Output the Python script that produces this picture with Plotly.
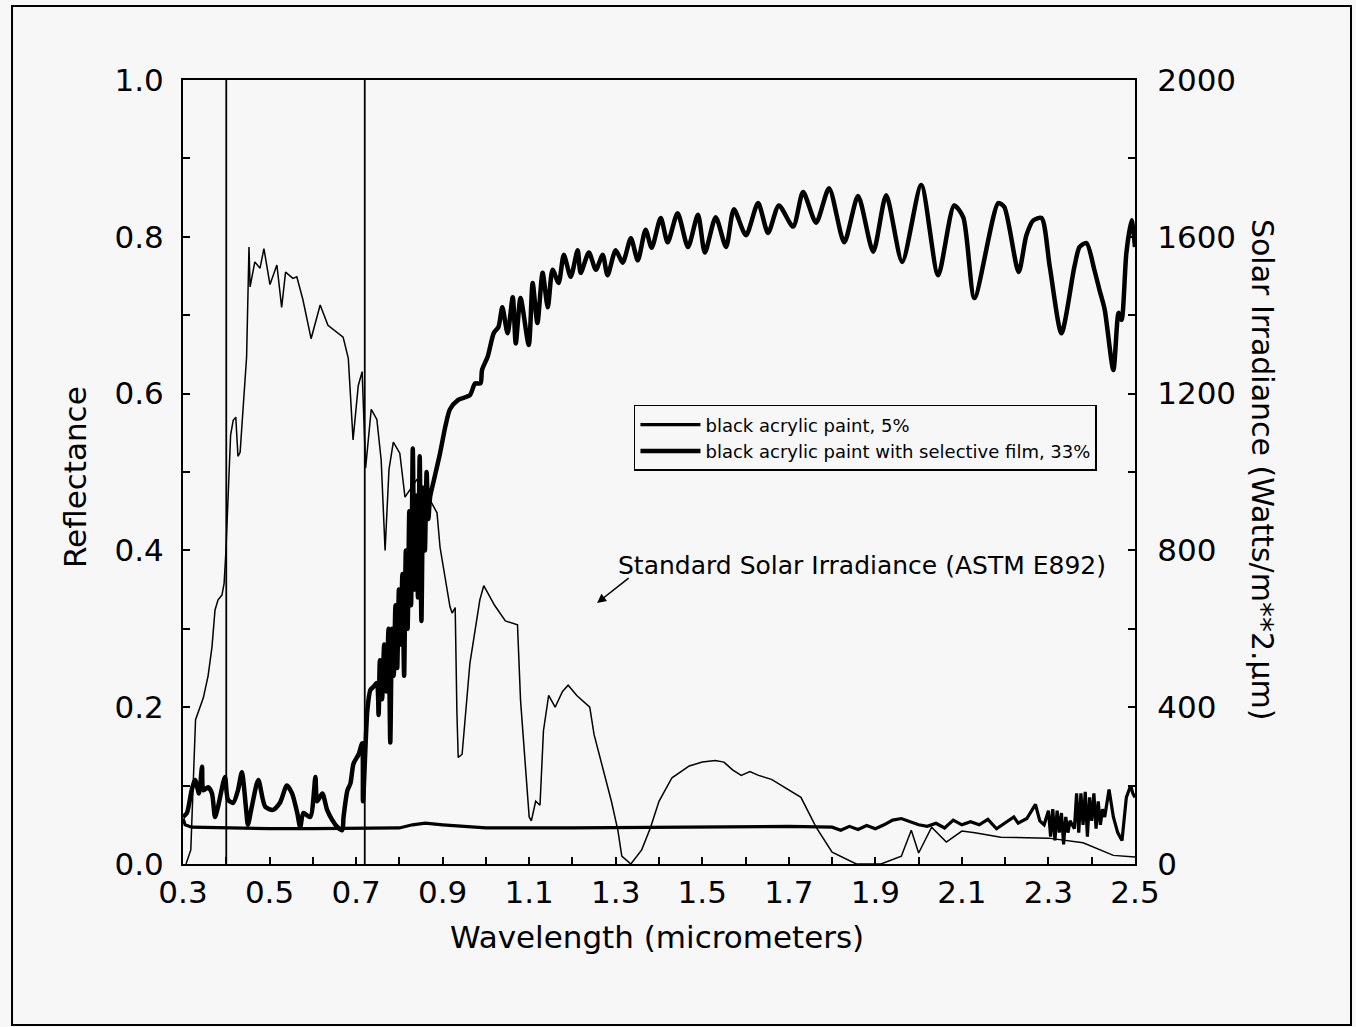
import plotly.graph_objects as go

# ---------------- data ----------------
# Standard solar irradiance (W/m^2/um) vs wavelength (um)
solar_wl = [0.307, 0.318, 0.329, 0.34, 0.347, 0.358, 0.367, 0.374, 0.381, 0.39, 0.395, 0.399,
            0.406, 0.41, 0.416, 0.422, 0.427, 0.432, 0.447, 0.45, 0.4525, 0.455, 0.466, 0.478,
            0.487, 0.501, 0.517, 0.528, 0.537, 0.554, 0.563, 0.577, 0.596, 0.617, 0.635, 0.67,
            0.682, 0.693, 0.705, 0.714, 0.722, 0.735, 0.748, 0.758, 0.767, 0.776, 0.786, 0.801,
            0.813, 0.84, 0.855, 0.871, 0.887, 0.894, 0.917, 0.922, 0.929, 0.933, 0.936, 0.945,
            0.963, 0.986, 0.995, 1.02, 1.045, 1.073, 1.08, 1.10, 1.105, 1.115, 1.125, 1.133,
            1.145, 1.16, 1.177, 1.19, 1.21, 1.24, 1.25, 1.29, 1.305, 1.314, 1.335, 1.36, 1.38,
            1.40, 1.43, 1.47, 1.50, 1.53, 1.55, 1.57, 1.59, 1.61, 1.63, 1.66, 1.69, 1.728,
            1.763, 1.80, 1.856, 1.913, 1.96, 1.983, 2.0, 2.03, 2.064, 2.1, 2.13, 2.19, 2.3,
            2.38, 2.45, 2.5]
solar_irr = [0, 36, 368, 400, 424, 480, 554, 648, 674, 686, 716, 794,
             980, 1094, 1132, 1140, 1040, 1050, 1294, 1464, 1574, 1472, 1536, 1520,
             1570, 1478, 1528, 1420, 1510, 1494, 1498, 1440, 1340, 1426, 1374, 1344,
             1290, 1082, 1220, 1256, 1010, 1160, 1134, 1030, 800, 1006, 1076, 1048,
             936, 980, 960, 928, 896, 808, 656, 640, 654, 386, 272, 280,
             512, 674, 710, 660, 620, 610, 418, 120, 110, 160, 150, 340,
             430, 400, 440, 456, 430, 400, 330, 160, 86, 20, 0, 36, 92,
             160, 220, 250, 260, 264, 260, 240, 226, 236, 226, 216, 196, 170,
             94, 30, 0, 0, 20, 86, 28, 94, 56, 84, 80, 68, 66,
             54, 22, 18]

# black acrylic paint, 5%
paint_wl = [0.3, 0.305, 0.32, 0.4, 0.5, 0.6, 0.7, 0.8, 0.83, 0.86, 0.9, 1.0, 1.2, 1.4, 1.6,
            1.7, 1.8, 1.82, 1.84, 1.86, 1.88, 1.9, 1.92, 1.94, 1.96, 1.98, 2.0, 2.02, 2.04,
            2.06, 2.08, 2.1, 2.12, 2.14, 2.16, 2.18, 2.2, 2.22, 2.23, 2.25, 2.27, 2.28, 2.29,
            2.3, 2.305, 2.31, 2.315, 2.32, 2.325, 2.33, 2.335, 2.34, 2.345, 2.35, 2.36, 2.365,
            2.37, 2.375, 2.38, 2.385, 2.39, 2.395, 2.40, 2.405, 2.41, 2.415, 2.42, 2.425, 2.43,
            2.44, 2.45, 2.46, 2.47, 2.475, 2.48, 2.49, 2.495, 2.5]
paint_refl = [0.058, 0.05, 0.047, 0.046, 0.045, 0.045, 0.045, 0.046, 0.05, 0.052, 0.05, 0.046,
              0.046, 0.047, 0.047, 0.048, 0.047, 0.043, 0.048, 0.044, 0.049, 0.045, 0.05, 0.056,
              0.058, 0.054, 0.05, 0.048, 0.052, 0.046, 0.056, 0.05, 0.054, 0.05, 0.057, 0.045,
              0.052, 0.06, 0.052, 0.058, 0.076, 0.055, 0.05, 0.068, 0.035, 0.07, 0.03, 0.068,
              0.04, 0.065, 0.025, 0.06, 0.04, 0.055, 0.045, 0.09, 0.04, 0.09, 0.05, 0.092, 0.035,
              0.085, 0.055, 0.09, 0.045, 0.08, 0.05, 0.07, 0.06, 0.095, 0.06, 0.04, 0.03, 0.06,
              0.085, 0.1, 0.09, 0.085]

# black acrylic paint with selective film, 33%
film_wl = [0.3, 0.309, 0.32, 0.328, 0.337, 0.344, 0.347, 0.358, 0.367, 0.374, 0.381, 0.397,
           0.404, 0.416, 0.427, 0.436, 0.446, 0.45, 0.459, 0.474, 0.49, 0.508, 0.524, 0.54,
           0.552, 0.564, 0.571, 0.578, 0.594, 0.606, 0.61, 0.622, 0.633, 0.645, 0.657, 0.668,
           0.671, 0.68, 0.687, 0.694, 0.706, 0.714, 0.716, 0.726, 0.733, 0.74, 0.748, 0.752,
           0.755, 0.76, 0.765, 0.77, 0.775, 0.779, 0.783, 0.787, 0.791, 0.795, 0.799, 0.803,
           0.807, 0.811, 0.815, 0.819, 0.823, 0.827, 0.831, 0.835, 0.839, 0.843, 0.847, 0.851,
           0.855, 0.859, 0.863, 0.867, 0.871, 0.88, 0.894, 0.907, 0.917, 0.936, 0.963, 0.975,
           0.9875, 0.991, 1.004, 1.018, 1.029, 1.038, 1.05, 1.062, 1.069, 1.08, 1.099, 1.108,
           1.119, 1.131, 1.143, 1.154, 1.168, 1.18, 1.196, 1.212, 1.219, 1.238, 1.254, 1.27,
           1.281, 1.3, 1.316, 1.335, 1.351, 1.369, 1.383, 1.404, 1.42, 1.443, 1.467, 1.49,
           1.506, 1.531, 1.555, 1.573, 1.601, 1.629, 1.652, 1.677, 1.71, 1.733, 1.763, 1.793,
           1.828, 1.86, 1.895, 1.925, 1.962, 2.006, 2.045, 2.082, 2.103, 2.129, 2.184, 2.198,
           2.231, 2.249, 2.265, 2.284, 2.303, 2.33, 2.36, 2.372, 2.388, 2.406, 2.418, 2.43,
           2.45, 2.462, 2.469, 2.48, 2.492, 2.5]
film_refl = [0.06, 0.065, 0.094, 0.107, 0.09, 0.124, 0.094, 0.098, 0.09, 0.06, 0.073, 0.111,
             0.082, 0.078, 0.094, 0.117, 0.069, 0.05, 0.073, 0.107, 0.073, 0.069, 0.078, 0.10,
             0.09, 0.065, 0.047, 0.065, 0.06, 0.111, 0.08, 0.09, 0.069, 0.056, 0.047, 0.043,
             0.06, 0.094, 0.103, 0.128, 0.14, 0.154, 0.08, 0.196, 0.222, 0.226, 0.231, 0.19,
             0.26, 0.21, 0.28, 0.22, 0.30, 0.155, 0.30, 0.24, 0.33, 0.25, 0.35, 0.28,
             0.37, 0.24, 0.40, 0.30, 0.45, 0.33, 0.53, 0.35, 0.47, 0.34, 0.52, 0.31,
             0.48, 0.40, 0.50, 0.44, 0.468, 0.49, 0.524, 0.56, 0.58, 0.592, 0.598, 0.613,
             0.613, 0.63, 0.647, 0.677, 0.685, 0.71, 0.677, 0.723, 0.664, 0.722, 0.662, 0.741,
             0.69, 0.754, 0.71, 0.758, 0.741, 0.777, 0.749, 0.783, 0.754, 0.78, 0.758, 0.777,
             0.751, 0.783, 0.767, 0.798, 0.77, 0.809, 0.786, 0.824, 0.793, 0.83, 0.787, 0.828,
             0.78, 0.825, 0.787, 0.835, 0.802, 0.843, 0.805, 0.84, 0.813, 0.857, 0.818, 0.862,
             0.793, 0.852, 0.781, 0.853, 0.768, 0.866, 0.751, 0.84, 0.825, 0.722, 0.843, 0.838,
             0.755, 0.802, 0.821, 0.824, 0.762, 0.677, 0.762, 0.787, 0.792, 0.758, 0.732, 0.707,
             0.63, 0.703, 0.694, 0.779, 0.821, 0.787]

visible_band = [0.4, 0.72]

x_ticks = [0.3, 0.5, 0.7, 0.9, 1.1, 1.3, 1.5, 1.7, 1.9, 2.1, 2.3, 2.5]
x_ticklabels = ["0.3", "0.5", "0.7", "0.9", "1.1", "1.3", "1.5", "1.7", "1.9", "2.1", "2.3", "2.5"]
y_ticks = [0.0, 0.2, 0.4, 0.6, 0.8, 1.0]
y_ticklabels = ["0.0", "0.2", "0.4", "0.6", "0.8", "1.0"]
y2_ticks = [0, 400, 800, 1200, 1600, 2000]
y2_ticklabels = ["0", "400", "800", "1200", "1600", "2000"]

# ---------------- figure ----------------
BG = "#f7f7f7"
FONT = "DejaVu Sans, Liberation Sans, Arial, sans-serif"

fig = go.Figure()

fig.add_trace(go.Scatter(x=solar_wl, y=solar_irr, mode="lines", yaxis="y2",
                         line=dict(color="black", width=1.5), showlegend=False,
                         name="Standard Solar Irradiance"))
fig.add_trace(go.Scatter(x=paint_wl, y=paint_refl, mode="lines",
                         line=dict(color="black", width=3.2),
                         name="black acrylic paint, 5%"))
fig.add_trace(go.Scatter(x=film_wl, y=film_refl, mode="lines",
                         line=dict(color="black", width=4.5, shape="spline", smoothing=0.7),
                         name="black acrylic paint with selective film, 33%"))

shapes = []
for v in visible_band:
    shapes.append(dict(type="line", xref="x", yref="paper", x0=v, x1=v, y0=0, y1=1,
                       line=dict(color="black", width=1.8), layer="above"))
# outer frame of the figure
shapes.append(dict(type="rect", xref="paper", yref="paper",
                   x0=-0.1796, x1=1.2269, y0=-0.2054, y1=1.0944,
                   line=dict(color="black", width=2), fillcolor="rgba(0,0,0,0)"))

minor_common = dict(ticks="inside", ticklen=7, tickcolor="black", tickwidth=1.5)
axis_common = dict(showline=True, linecolor="black", linewidth=2, ticks="inside",
                   ticklen=7, tickcolor="black", tickwidth=1.5, showgrid=False,
                   zeroline=False, tickfont=dict(family=FONT, size=31, color="black"))

fig.update_layout(
    width=1356, height=1027,
    margin=dict(l=183, r=221, t=80, b=163),
    paper_bgcolor=BG, plot_bgcolor=BG,
    font=dict(family=FONT, color="black"),
    xaxis=dict(range=[0.3, 2.5], tickvals=x_ticks, ticktext=x_ticklabels, mirror=True,
               minor=dict(dtick=0.1, tick0=0.3, **minor_common),
               ticklabelstandoff=0, **axis_common),
    yaxis=dict(range=[0, 1.0], tickvals=y_ticks, ticktext=y_ticklabels,
               minor=dict(dtick=0.1, **minor_common),
               ticklabelstandoff=11, **axis_common),
    yaxis2=dict(range=[0, 2000], overlaying="y", side="right", tickvals=y2_ticks,
                ticktext=y2_ticklabels,
                minor=dict(dtick=200, **minor_common),
                ticklabelstandoff=14, **axis_common),
    legend=dict(x=0.4737, y=0.5855, xanchor="left", yanchor="top",
                bgcolor=BG, bordercolor="black", borderwidth=1.5,
                font=dict(family=FONT, size=18, color="black"),
                tracegroupgap=0, itemwidth=60),
    shapes=shapes,
    annotations=[
        dict(text="Reflectance", xref="paper", yref="paper", x=-0.1134, y=0.4936,
             xanchor="center", yanchor="middle",
             textangle=-90, showarrow=False, font=dict(family=FONT, size=31)),
        dict(text="Wavelength (micrometers)", xref="paper", yref="paper", x=0.498, y=-0.0931,
             xanchor="center", yanchor="middle",
             showarrow=False, font=dict(family=FONT, size=31)),
        dict(text="Solar Irradiance (Watts/m**2.\u03bcm)", xref="paper", yref="paper",
             x=1.1334, y=0.5026, xanchor="center", yanchor="middle",
             textangle=90, showarrow=False, font=dict(family=FONT, size=30)),
        dict(text="Standard Solar Irradiance (ASTM E892)", xref="x", yref="y", x=1.869, y=0.381,
             xanchor="center", yanchor="middle",
             showarrow=False, font=dict(family=FONT, size=25)),
        dict(text="", xref="x", yref="y", x=1.257, y=0.333, ax=33, ay=-26,
             showarrow=True, arrowhead=2, arrowsize=1.2, arrowwidth=1.5, arrowcolor="black"),
    ],
)

fig.write_html("out.html", config={"displayModeBar": False},
               post_script="document.body.style.margin='0';")
